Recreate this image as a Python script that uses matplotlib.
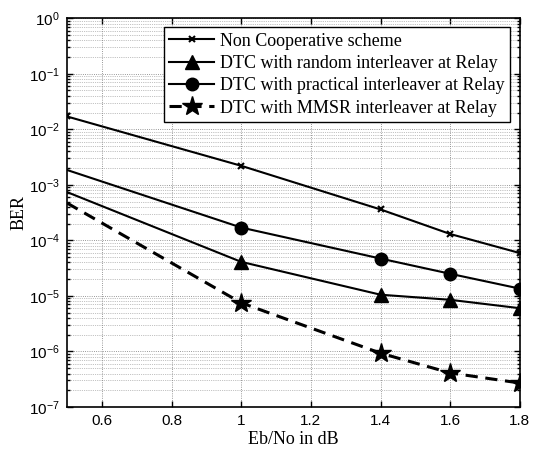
import numpy as np
import matplotlib
matplotlib.use('Agg')
import matplotlib.pyplot as plt
from matplotlib.ticker import LogLocator, FixedLocator, NullFormatter

plt.rcParams['mathtext.fontset'] = 'custom'
plt.rcParams['mathtext.rm'] = 'Liberation Sans'
plt.rcParams['mathtext.it'] = 'Liberation Sans:italic'
plt.rcParams['mathtext.bf'] = 'Liberation Sans:bold'

ebno = [0.5, 1.0, 1.4, 1.6, 1.8]
ber_noncoop = [1.7e-2, 2.2e-3, 3.6e-4, 1.3e-4, 5.9e-5]
ber_random = [7.4e-4, 4.1e-5, 1.05e-5, 8.5e-6, 6.0e-6]
ber_practical = [1.85e-3, 1.7e-4, 4.7e-5, 2.5e-5, 1.35e-5]
ber_mmsr = [4.7e-4, 7.5e-6, 9.3e-7, 4.1e-7, 2.7e-7]

labels = ['Non Cooperative scheme',
          'DTC with random interleaver at Relay',
          'DTC with practical interleaver at Relay',
          'DTC with MMSR interleaver at Relay']

fig = plt.figure(figsize=(5.36, 4.5), dpi=100)
ax = fig.add_axes([0.125, 0.0956, 0.845, 0.864])

ax.semilogy(ebno, ber_noncoop, 'k-x', lw=1.5, ms=4, mew=1.5, label=labels[0])
ax.semilogy(ebno, ber_random, 'k-^', lw=1.5, ms=10, markevery=[1, 2, 3, 4], label=labels[1])
ax.semilogy(ebno, ber_practical, 'k-o', lw=1.5, ms=9, markevery=[1, 2, 3, 4], label=labels[2])
ax.semilogy(ebno, ber_mmsr, 'k--*', lw=2.2, ms=15, markevery=[1, 2, 3, 4], dashes=(4, 2.5), label=labels[3])

ax.set_xlim(0.5, 1.8)
ax.set_ylim(1e-7, 1)
ax.xaxis.set_major_locator(FixedLocator([0.6, 0.8, 1.0, 1.2, 1.4, 1.6, 1.8]))
ax.set_xticklabels(['0.6', '0.8', '1', '1.2', '1.4', '1.6', '1.8'])
ax.yaxis.set_major_locator(FixedLocator([1e-7, 1e-6, 1e-5, 1e-4, 1e-3, 1e-2, 1e-1, 1e0]))
ax.set_yticklabels(['$10^{-7}$', '$10^{-6}$', '$10^{-5}$', '$10^{-4}$',
                    '$10^{-3}$', '$10^{-2}$', '$10^{-1}$', '$10^{0}$'])
ax.yaxis.set_minor_locator(LogLocator(base=10, subs=np.arange(2, 10), numticks=20))
ax.yaxis.set_minor_formatter(NullFormatter())

ax.grid(True, which='major', axis='both', color='#777777', lw=0.6, ls=':')
ax.grid(True, which='minor', axis='y', color='#888888', lw=0.5, ls=':')
ax.tick_params(which='both', direction='in', top=True, right=True, labelsize=11, width=1)
ax.tick_params(which='major', length=4, pad=5)
ax.tick_params(which='minor', length=2.5)
for lab in ax.get_xticklabels() + ax.get_yticklabels():
    lab.set_fontfamily('Liberation Sans')
for s in ax.spines.values():
    s.set_linewidth(1.2)

ax.set_xlabel('Eb/No in dB', fontfamily='Liberation Serif', fontsize=13, labelpad=2)
ax.set_ylabel('BER', fontfamily='Liberation Serif', fontsize=13, labelpad=1)

leg = ax.legend(loc='upper right', prop={'family': 'Liberation Serif', 'size': 13},
                handlelength=2.5, fancybox=False, framealpha=1, edgecolor='black',
                borderpad=0.3, labelspacing=0.3, handletextpad=0.3, borderaxespad=0,
                bbox_to_anchor=(0.978, 0.977))
leg.get_frame().set_linewidth(1.0)

fig.savefig('out.png', dpi=100)
